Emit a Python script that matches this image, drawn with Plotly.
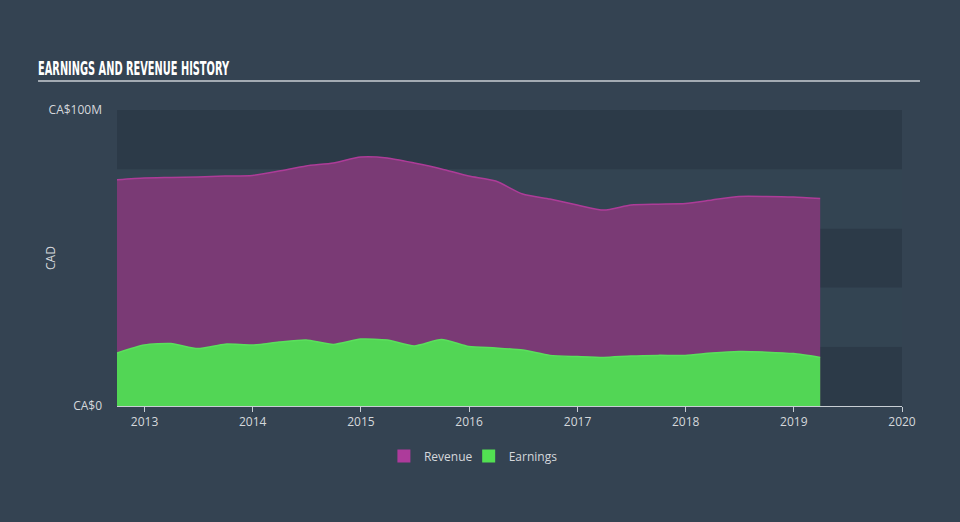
import plotly.graph_objects as go

dates = ["2012-09-30", "2012-12-31", "2013-03-31", "2013-06-30", "2013-09-30", "2013-12-31",
         "2014-03-31", "2014-06-30", "2014-09-30", "2014-12-31", "2015-03-31", "2015-06-30",
         "2015-09-30", "2015-12-31", "2016-03-31", "2016-06-30", "2016-09-30", "2016-12-31",
         "2017-03-31", "2017-06-30", "2017-09-30", "2017-12-31", "2018-03-31", "2018-06-30",
         "2018-09-30", "2018-12-31", "2019-03-31"]
revenue = [76.4, 77.0, 77.2, 77.4, 77.7, 77.9, 79.4, 81.1, 82.1, 84.1, 83.8, 82.1,
           80.1, 77.7, 76.0, 71.6, 69.9, 67.9, 66.2, 67.9, 68.2, 68.4, 69.6, 70.8,
           70.8, 70.6, 70.1]
earnings = [17.9, 20.6, 21.1, 19.4, 20.9, 20.6, 21.6, 22.3, 20.8, 22.6, 22.3, 20.3,
            22.5, 20.1, 19.6, 18.9, 17.1, 16.7, 16.4, 16.9, 17.1, 17.1, 17.9, 18.4,
            18.2, 17.7, 16.4]
year_ticks = ["2013-01-01", "2014-01-01", "2015-01-01", "2016-01-01", "2017-01-01",
              "2018-01-01", "2019-01-01", "2020-01-01"]
year_labels = ["2013", "2014", "2015", "2016", "2017", "2018", "2019", "2020"]
y_ticks = [0, 100]
y_labels = ["CA$0", "CA$100M"]
band_edges = [0, 20, 40, 60, 80, 100]

fig = go.Figure()
fig.add_trace(go.Scatter(x=dates, y=[v * 1e6 for v in revenue], name="Revenue",
                         mode="lines", fill="tozeroy", fillcolor="#7a3a75",
                         line=dict(color="#ad3c98", width=1.5, shape="spline", smoothing=0.6),
                         hoverinfo="skip", showlegend=False))
fig.add_trace(go.Scatter(x=dates, y=[v * 1e6 for v in earnings], name="Earnings",
                         mode="lines", fill="tozeroy", fillcolor="#52d655",
                         line=dict(color="#5ae05c", width=1.5, shape="spline", smoothing=0.6),
                         hoverinfo="skip", showlegend=False))
# legend swatches
fig.add_trace(go.Scatter(x=[None], y=[None], name="Revenue", mode="markers", legend="legend",
                         marker=dict(symbol="square", size=13, color="#ad3b9b")))
fig.add_trace(go.Scatter(x=[None], y=[None], name="Earnings", mode="markers", legend="legend2",
                         marker=dict(symbol="square", size=13, color="#52e052")))

shapes = []
for i in range(len(band_edges) - 1):
    shapes.append(dict(type="rect", xref="paper", yref="y", x0=0, x1=1,
                       y0=band_edges[i] * 1e6, y1=band_edges[i + 1] * 1e6,
                       fillcolor="#2c3a48" if i % 2 == 0 else "#334452",
                       line=dict(width=0), layer="below"))
shapes.append(dict(type="line", xref="paper", yref="paper", x0=-0.1006, x1=1.0229,
                   y0=1.098, y1=1.098, line=dict(color="#a3abb3", width=2)))

legend_style = dict(orientation="h", xanchor="left", y=-0.169, yanchor="middle",
                    font=dict(size=12, color="#d4d8dc"), bgcolor="rgba(0,0,0,0)")

fig.update_layout(
    width=960, height=522,
    margin=dict(l=117, r=58, t=110, b=116, autoexpand=False),
    paper_bgcolor="#344352",
    plot_bgcolor="rgba(0,0,0,0)",
    font=dict(family="Open Sans", size=12, color="#d4d8dc"),
    title=dict(text="EARNINGS AND REVENUE HISTORY", x=38 / 960, xref="container",
               xanchor="left", y=1 - 68 / 522, yref="container", yanchor="middle",
               font=dict(family="DejaVu Sans Condensed, sans-serif", weight=700,
                         size=20, color="#ffffff")),
    shapes=shapes,
    annotations=[dict(text="CAD", xref="paper", yref="paper", x=-0.0854, y=0.5,
                      textangle=-90, showarrow=False, xanchor="center", yanchor="middle",
                      font=dict(size=12, color="#d4d8dc"))],
    showlegend=True,
    legend=dict(x=0.340, **legend_style),
    legend2=dict(x=0.448, **legend_style),
    xaxis=dict(type="date", range=["2012-09-30", "2020-01-01"], automargin=False,
               tickvals=year_ticks, ticktext=year_labels,
               showgrid=False, zeroline=False, showline=True, linecolor="#c8ced4",
               linewidth=1, ticks="outside", ticklen=5, tickcolor="#c8ced4",
               tickfont=dict(size=12, color="#d4d8dc")),
    yaxis=dict(range=[0, 100e6], tickvals=[v * 1e6 for v in y_ticks], ticktext=y_labels,
               showgrid=False, zeroline=False, showline=False, ticks="", automargin=False,
               ticklabelstandoff=14,
               tickfont=dict(size=12, color="#d4d8dc")),
)

post = (
    "document.body.style.margin='0';document.body.style.overflow='hidden';"
    "var t=document.querySelector('.gtitle');"
    "if(t){t.setAttribute('textLength','191');t.setAttribute('lengthAdjust','spacingAndGlyphs');}"
)
fig.write_html("out.html", post_script=post, config={"displayModeBar": False})
